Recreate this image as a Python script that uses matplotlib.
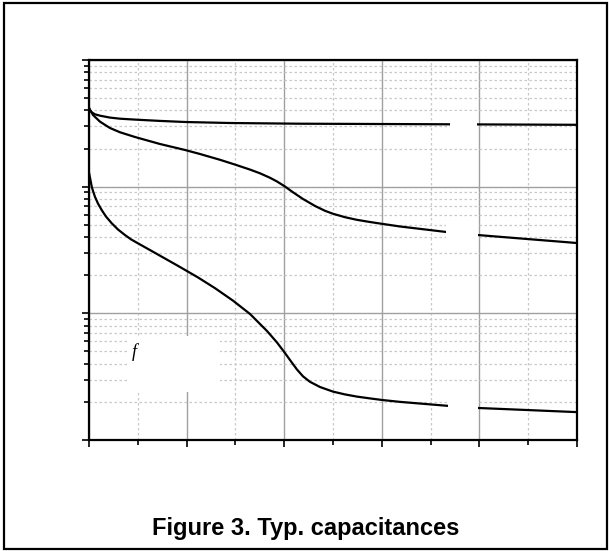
import numpy as np
import matplotlib
matplotlib.use("Agg")
import matplotlib.pyplot as plt
from matplotlib.patches import Rectangle
from matplotlib.ticker import MultipleLocator, LogLocator, NullFormatter

# curve data (x in V, y in pF)
x_ciss = [0, 0.1, 0.31, 0.61, 1.13, 2.15, 3.18, 4.71, 7.27, 9.84, 14.45, 21.6, 31.9, 50.0]
y_ciss = [4178, 3994, 3850, 3727, 3634, 3510, 3440, 3384, 3305, 3240, 3181, 3141, 3119, 3079]

x_coss = [0, 0.41, 1.13, 2.15, 3.18, 4.71, 7.27, 9.84, 11.37, 13.42, 14.96, 16.50,
          17.52, 18.55, 19.26, 20.08, 20.90, 21.93, 23.16, 24.18, 25.0, 26.23,
          27.46, 28.79, 30.02, 31.86, 36.58, 39.86, 50.0]
y_coss = [4178, 3680, 3258, 2905, 2687, 2467, 2172, 1948, 1811, 1630, 1494, 1364,
          1275, 1175, 1099, 1003, 903, 799, 704, 645, 611, 574,
          547, 526, 509, 485, 439, 415, 359]

x_crss = [0, 0.15, 0.28, 0.41, 0.61, 0.92, 1.30, 1.74, 2.33, 2.97, 3.69, 4.30,
          5.02, 7.07, 9.12, 11.17, 12.91, 14.75, 16.50, 18.24, 19.26, 20.08,
          20.70, 21.31, 21.93, 22.64, 23.67, 25.0, 26.23, 27.46, 28.79, 30.02,
          31.86, 36.78, 39.86, 50.0]
y_crss = [1290, 1129, 999, 924, 833, 736, 654, 581, 514, 459, 415, 384,
          357, 291, 237, 192, 158, 126, 98.8, 72.5, 58.9, 48.6,
          41.7, 36.0, 31.8, 28.8, 26.2, 24.1, 22.9, 22.0, 21.3, 20.7,
          20.0, 18.6, 17.9, 16.6]

# white label boxes (axes fraction: x0, y0, w, h) that cut the curves
label_boxes = [
    (0.740, 0.805, 0.056, 0.060),
    (0.732, 0.510, 0.066, 0.060),
    (0.736, 0.075, 0.062, 0.060),
]

fig = plt.figure(figsize=(6.09, 5.51), dpi=100)
ax = fig.add_axes([89 / 609, 111 / 551, 488 / 609, 380 / 551])

for xs, ys in [(x_ciss, y_ciss), (x_coss, y_coss), (x_crss, y_crss)]:
    ax.plot(xs, ys, color="black", lw=1.6, zorder=3, solid_joinstyle="round")

ax.set_yscale("log")
ax.set_xlim(0, 50)
ax.set_ylim(10, 10000)

ax.xaxis.set_major_locator(MultipleLocator(10))
ax.xaxis.set_minor_locator(MultipleLocator(5))
ax.yaxis.set_major_locator(LogLocator(base=10))
ax.yaxis.set_minor_locator(LogLocator(base=10, subs=np.arange(2, 10)))
ax.xaxis.set_major_formatter(NullFormatter())
ax.xaxis.set_minor_formatter(NullFormatter())
ax.yaxis.set_major_formatter(NullFormatter())
ax.yaxis.set_minor_formatter(NullFormatter())

ax.grid(which="major", color="#a0a0a0", lw=1.0, ls="-")
ax.grid(which="minor", color="#c8c8c8", lw=0.9, ls=(0, (2, 2)))
ax.set_axisbelow(True)

ax.tick_params(which="major", direction="out", length=5, width=1.2, color="black")
ax.tick_params(which="minor", direction="out", length=3.5, width=1.2, color="black")

for sp in ax.spines.values():
    sp.set_color("black")
    sp.set_linewidth(1.6)

for (bx, by, bw, bh) in label_boxes:
    ax.add_patch(Rectangle((bx, by), bw, bh, transform=ax.transAxes,
                           facecolor="white", edgecolor="none", zorder=4))

# box with the f label
ax.add_patch(Rectangle((0.078, 0.126), 0.19, 0.148, transform=ax.transAxes,
                       facecolor="white", edgecolor="none", zorder=4))
ax.text(0.092, 0.232, "f", transform=ax.transAxes, fontsize=13,
        family="Liberation Serif", style="italic", ha="center", va="center", zorder=5)

fig.text(306 / 609, 1 - 529 / 551, "Figure 3. Typ. capacitances",
         fontsize=17, fontweight="bold", family="Liberation Sans",
         ha="center", va="center")

# outer frame
fig.patches.append(Rectangle((4 / 609, 2 / 551), 603 / 609, 546 / 551,
                             transform=fig.transFigure, fill=False,
                             edgecolor="black", lw=1.6))

fig.savefig("out.png", dpi=100)
